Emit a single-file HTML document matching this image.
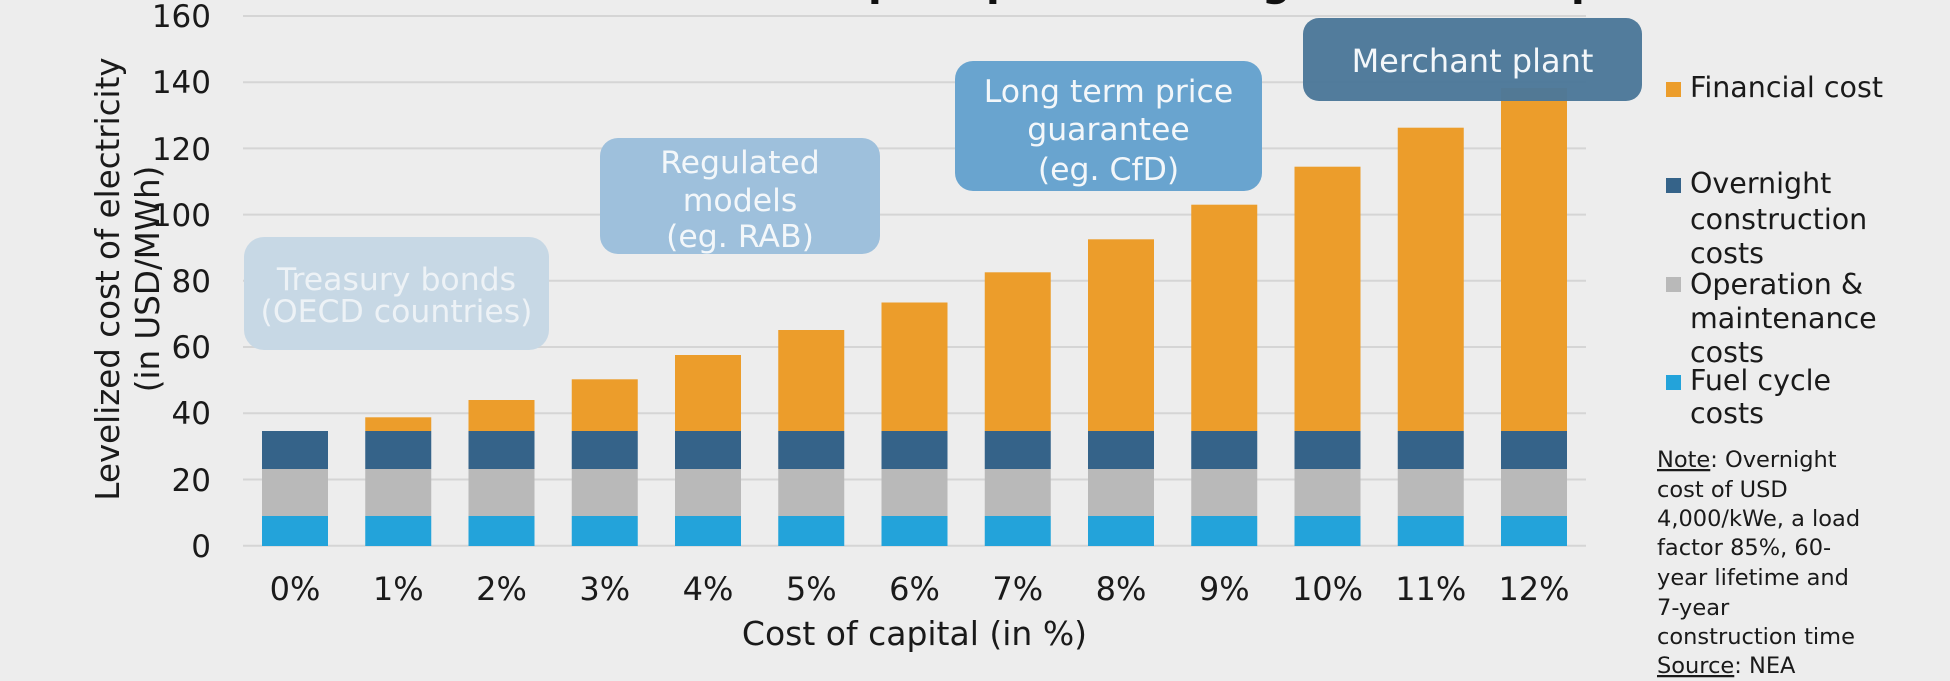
<!DOCTYPE html>
<html>
<head>
<meta charset="utf-8">
<style>
  html, body { margin:0; padding:0; background:#ededed; }
  body { width:1950px; height:681px; overflow:hidden; }
  svg { display:block; }
  text { font-family: "DejaVu Sans", "Liberation Sans", sans-serif; }
</style>
</head>
<body>
<svg width="1950" height="681" viewBox="0 0 1950 681" xmlns="http://www.w3.org/2000/svg">
  <rect x="0" y="0" width="1950" height="681" fill="#ededed"/>

  <!-- clipped title descenders -->
  <g font-weight="bold" font-size="40" fill="#111">
    <text x="868" y="-4.5">p</text>
    <text x="986" y="-4.5">p</text>
    <text x="1262" y="-4.5">g</text>
    <text x="1571" y="-4.5">p</text>
  </g>

  <!-- gridlines -->
  <g stroke="#d5d5d5" stroke-width="2">
    <line x1="243" x2="1586" y1="545.7" y2="545.7"/>
    <line x1="243" x2="1586" y1="479.5" y2="479.5"/>
    <line x1="243" x2="1586" y1="413.2" y2="413.2"/>
    <line x1="243" x2="1586" y1="347.0" y2="347.0"/>
    <line x1="243" x2="1586" y1="280.8" y2="280.8"/>
    <line x1="243" x2="1586" y1="214.6" y2="214.6"/>
    <line x1="243" x2="1586" y1="148.4" y2="148.4"/>
    <line x1="243" x2="1586" y1="82.2" y2="82.2"/>
    <line x1="243" x2="1586" y1="16" y2="16"/>
  </g>

  <!-- y tick labels -->
  <g font-size="31" fill="#1a1a1a" text-anchor="end">
    <text x="211" y="557">0</text>
    <text x="211" y="491">20</text>
    <text x="211" y="424">40</text>
    <text x="211" y="358">60</text>
    <text x="211" y="292">80</text>
    <text x="211" y="226">100</text>
    <text x="211" y="160">120</text>
    <text x="211" y="93">140</text>
    <text x="211" y="27">160</text>
  </g>

  <!-- y axis title -->
  <g font-size="32.5" fill="#1a1a1a" text-anchor="middle">
    <text transform="translate(119,279) rotate(-90)">Levelized cost of electricity</text>
    <text transform="translate(159,279) rotate(-90)">(in USD/MWh)</text>
  </g>

  <!-- bars -->
  <g>
    <!-- fuel cycle -->
    <g fill="#23a3da">
      <rect x="262" y="516" width="66" height="30"/>
      <rect x="365.25" y="516" width="66" height="30"/>
      <rect x="468.5" y="516" width="66" height="30"/>
      <rect x="571.75" y="516" width="66" height="30"/>
      <rect x="675" y="516" width="66" height="30"/>
      <rect x="778.25" y="516" width="66" height="30"/>
      <rect x="881.5" y="516" width="66" height="30"/>
      <rect x="984.75" y="516" width="66" height="30"/>
      <rect x="1088" y="516" width="66" height="30"/>
      <rect x="1191.25" y="516" width="66" height="30"/>
      <rect x="1294.5" y="516" width="66" height="30"/>
      <rect x="1397.75" y="516" width="66" height="30"/>
      <rect x="1501" y="516" width="66" height="30"/>
    </g>
    <!-- O&M -->
    <g fill="#b9b9b9">
      <rect x="262" y="469" width="66" height="47"/>
      <rect x="365.25" y="469" width="66" height="47"/>
      <rect x="468.5" y="469" width="66" height="47"/>
      <rect x="571.75" y="469" width="66" height="47"/>
      <rect x="675" y="469" width="66" height="47"/>
      <rect x="778.25" y="469" width="66" height="47"/>
      <rect x="881.5" y="469" width="66" height="47"/>
      <rect x="984.75" y="469" width="66" height="47"/>
      <rect x="1088" y="469" width="66" height="47"/>
      <rect x="1191.25" y="469" width="66" height="47"/>
      <rect x="1294.5" y="469" width="66" height="47"/>
      <rect x="1397.75" y="469" width="66" height="47"/>
      <rect x="1501" y="469" width="66" height="47"/>
    </g>
    <!-- overnight -->
    <g fill="#356389">
      <rect x="262" y="431" width="66" height="38"/>
      <rect x="365.25" y="431" width="66" height="38"/>
      <rect x="468.5" y="431" width="66" height="38"/>
      <rect x="571.75" y="431" width="66" height="38"/>
      <rect x="675" y="431" width="66" height="38"/>
      <rect x="778.25" y="431" width="66" height="38"/>
      <rect x="881.5" y="431" width="66" height="38"/>
      <rect x="984.75" y="431" width="66" height="38"/>
      <rect x="1088" y="431" width="66" height="38"/>
      <rect x="1191.25" y="431" width="66" height="38"/>
      <rect x="1294.5" y="431" width="66" height="38"/>
      <rect x="1397.75" y="431" width="66" height="38"/>
      <rect x="1501" y="431" width="66" height="38"/>
    </g>
    <!-- financial -->
    <g fill="#ec9d2b">
      <rect x="365.25" y="417.3" width="66" height="13.7"/>
      <rect x="468.5" y="400" width="66" height="31"/>
      <rect x="571.75" y="379.3" width="66" height="51.7"/>
      <rect x="675" y="355" width="66" height="76"/>
      <rect x="778.25" y="330" width="66" height="101"/>
      <rect x="881.5" y="302.5" width="66" height="128.5"/>
      <rect x="984.75" y="272.3" width="66" height="158.7"/>
      <rect x="1088" y="239.3" width="66" height="191.7"/>
      <rect x="1191.25" y="204.7" width="66" height="226.3"/>
      <rect x="1294.5" y="166.7" width="66" height="264.3"/>
      <rect x="1397.75" y="127.7" width="66" height="303.3"/>
      <rect x="1501" y="88" width="66" height="343"/>
    </g>
  </g>

  <!-- x tick labels -->
  <g font-size="32" fill="#1a1a1a" text-anchor="middle">
    <text x="295" y="600">0%</text>
    <text x="398.25" y="600">1%</text>
    <text x="501.5" y="600">2%</text>
    <text x="604.75" y="600">3%</text>
    <text x="708" y="600">4%</text>
    <text x="811.25" y="600">5%</text>
    <text x="914.5" y="600">6%</text>
    <text x="1017.75" y="600">7%</text>
    <text x="1121" y="600">8%</text>
    <text x="1224.25" y="600">9%</text>
    <text x="1327.5" y="600">10%</text>
    <text x="1430.75" y="600">11%</text>
    <text x="1534" y="600">12%</text>
  </g>

  <!-- x axis title -->
  <text x="914.5" y="645" font-size="33" fill="#1a1a1a" text-anchor="middle">Cost of capital (in %)</text>

  <!-- annotation boxes -->
  <rect x="244" y="237" width="305" height="113" rx="20" fill="#c7d8e5"/>
  <g font-size="31.5" fill="#edf2f6" text-anchor="middle">
    <text x="396.5" y="290">Treasury bonds</text>
    <text x="396.5" y="322">(OECD countries)</text>
  </g>

  <rect x="600" y="138" width="280" height="116" rx="18" fill="#9ec0dc"/>
  <g font-size="31.5" fill="#f3f7fa" text-anchor="middle">
    <text x="740" y="173">Regulated</text>
    <text x="740" y="211">models</text>
    <text x="740" y="247">(eg. RAB)</text>
  </g>

  <rect x="955" y="61" width="307" height="130" rx="18" fill="#69a4cf"/>
  <g font-size="31.5" fill="#f3f7fa" text-anchor="middle">
    <text x="1108.5" y="102">Long term price</text>
    <text x="1108.5" y="140">guarantee</text>
    <text x="1108.5" y="180">(eg. CfD)</text>
  </g>

  <rect x="1303" y="18" width="339" height="83" rx="16" fill="#4c7899" fill-opacity="0.97"/>
  <text x="1472.5" y="72" font-size="32" fill="#f3f7fa" text-anchor="middle">Merchant plant</text>

  <!-- legend -->
  <rect x="1666" y="82" width="15" height="15" fill="#ec9d2b"/>
  <rect x="1666" y="178" width="15" height="15" fill="#356389"/>
  <rect x="1666" y="277" width="15" height="15" fill="#b9b9b9"/>
  <rect x="1666" y="375" width="15" height="15" fill="#23a3da"/>
  <g font-size="28.5" fill="#1a1a1a">
    <text x="1690" y="97">Financial cost</text>
    <text x="1690" y="193">Overnight</text>
    <text x="1690" y="229">construction</text>
    <text x="1690" y="263">costs</text>
    <text x="1690" y="294">Operation &amp;</text>
    <text x="1690" y="328">maintenance</text>
    <text x="1690" y="362">costs</text>
    <text x="1690" y="390">Fuel cycle</text>
    <text x="1690" y="423">costs</text>
  </g>

  <!-- note -->
  <g font-size="22.5" fill="#1a1a1a">
    <text x="1657" y="467"><tspan text-decoration="underline">Note</tspan>: Overnight</text>
    <text x="1657" y="497">cost of USD</text>
    <text x="1657" y="526">4,000/kWe, a load</text>
    <text x="1657" y="555">factor 85%, 60-</text>
    <text x="1657" y="585">year lifetime and</text>
    <text x="1657" y="615">7-year</text>
    <text x="1657" y="644">construction time</text>
    <text x="1657" y="673"><tspan text-decoration="underline">Source</tspan>: NEA</text>
  </g>
</svg>
</body>
</html>
